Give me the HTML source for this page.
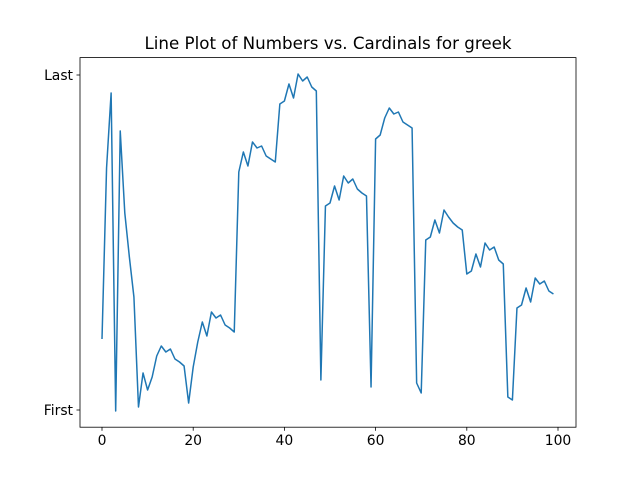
<!DOCTYPE html>
<html><head><meta charset="utf-8"><style>
body{margin:0;background:#fff}
svg{display:block;font-family:"DejaVu Sans","Liberation Sans",sans-serif}
</style></head><body>
<svg id="chart" width="640" height="480">
<rect x="0" y="0" width="640" height="480" fill="#fff"/>
<text x="328" y="49" text-anchor="middle" font-size="16.7" fill="#000">Line Plot of Numbers vs. Cardinals for greek</text>
<g id="plot"></g>
<rect x="80" y="57.6" width="496" height="369.6" fill="none" stroke="#000" stroke-width="0.8"/>
</svg>
<script>
const values=[71,242,317,-1,279,197,153,113,3,37,20,33,54,64,58,61,51,48,44,7,43,68,88,74,98,92,95,85,82,78,238,258,244,268,262,264,254,251,248,306,309,326,312,336,329,333,323,319,30,204,207,224,210,234,227,231,221,217,214,23,271,275,292,302,296,298,288,285,282,27,17,170,173,190,177,200,193,187,183,180,136,139,156,143,167,160,163,150,146,13,10,102,105,122,108,132,126,129,119,116];
const xTicks=[0,20,40,60,80,100];
const yTickLabels=["First","Last"];
const yTickValues=[0,335];
const NS="http://www.w3.org/2000/svg";
const xS=v=>102+v*4.56;
const yS=v=>410-v*(335/335);
const g=document.getElementById('plot');
function mk(t,a){const e=document.createElementNS(NS,t);for(const k in a)e.setAttribute(k,a[k]);return e;}
let d=values.map((v,i)=>(i?'L':'M')+xS(i).toFixed(2)+' '+yS(v).toFixed(2)).join(' ');
const p=mk('path',{d:d,fill:'none',stroke:'#1f77b4','stroke-width':1.5,'stroke-linejoin':'round'});


g.appendChild(p);
xTicks.forEach(t=>{
 const x=xS(t);
 const l=mk('line',{x1:x,x2:x,y1:427.2,y2:430.7,stroke:'#000','stroke-width':0.8});
 
 
 g.appendChild(l);
 const tx=mk('text',{x:x,y:445,'text-anchor':'middle','font-size':13.9,fill:'#000'});
 tx.textContent=t;
 
 
 g.appendChild(tx);
});
yTickValues.forEach((v,i)=>{
 const y=yS(v);
 const l=mk('line',{x1:76.5,x2:80,y1:y,y2:y,stroke:'#000','stroke-width':0.8});
 
 
 g.appendChild(l);
 const tx=mk('text',{x:73,y:y+5,'text-anchor':'end','font-size':13.9,fill:'#000'});
 tx.textContent=yTickLabels[i];
 
 
 g.appendChild(tx);
});
</script>
</body></html>
